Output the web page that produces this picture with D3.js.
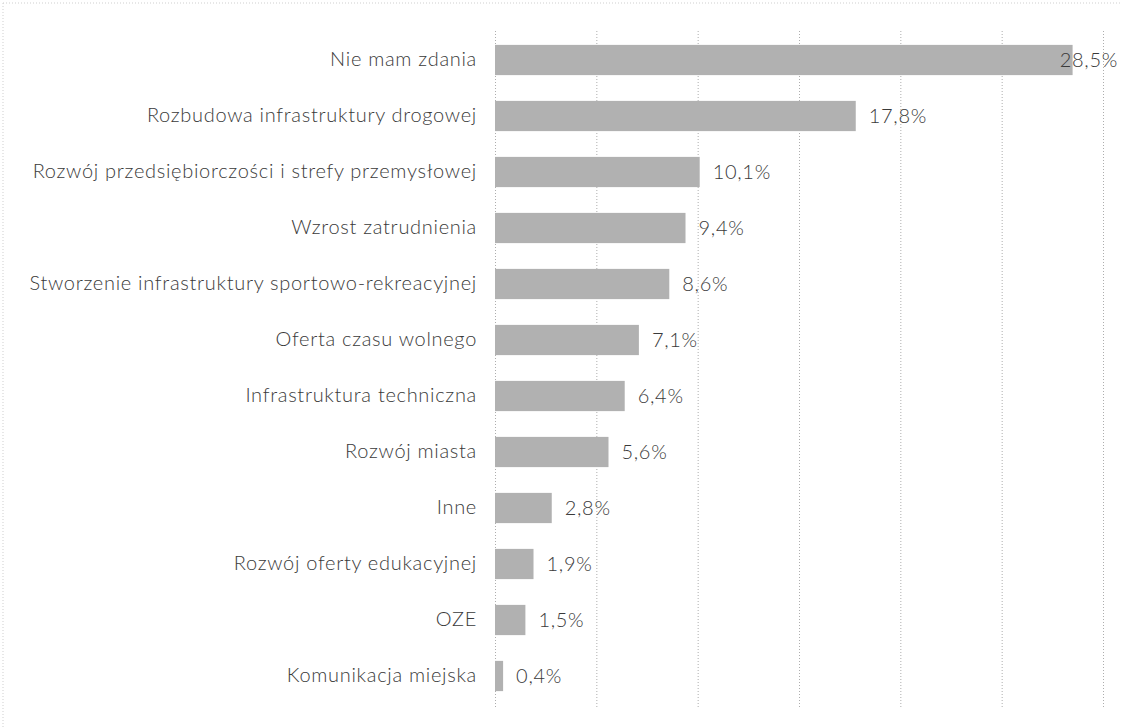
<!DOCTYPE html>
<html>
<head>
<meta charset="utf-8">
<script src="https://cdn.jsdelivr.net/npm/d3@7"></script>
<style>
  body { margin: 0; background: #fff; }
  svg text { font-family: Lato, "Open Sans", sans-serif; font-weight: 300; fill: #3a3a3a; letter-spacing: 0.7px; }
</style>
</head>
<body>
<svg id="chart" width="1121" height="727"></svg>
<script>
// categories and values (percent)
var categories = [
  'Nie mam zdania',
  'Rozbudowa infrastruktury drogowej',
  'Rozwój przedsiębiorczości i strefy przemysłowej',
  'Wzrost zatrudnienia',
  'Stworzenie infrastruktury sportowo-rekreacyjnej',
  'Oferta czasu wolnego',
  'Infrastruktura techniczna',
  'Rozwój miasta',
  'Inne',
  'Rozwój oferty edukacyjnej',
  'OZE',
  'Komunikacja miejska'
]
var values = [28.5, 17.8, 10.1, 9.4, 8.6, 7.1, 6.4, 5.6, 2.8, 1.9, 1.5, 0.4]
var xTicks = [0, 5, 10, 15, 20, 25, 30]

var width = 1121,
    height = 727,
    margins = { top: 32, left: 495, right: 18, bottom: 23 }

var svg = d3.select('#chart')

var xScale = d3.scaleLinear()
    .domain([0, 30])
    .range([margins.left, width - margins.right])

var yScale = d3.scaleBand()
    .domain(categories)
    .range([margins.top, height - margins.bottom])
    .paddingInner(0.46)
    .paddingOuter(0.23)

// frame (dotted, like the scanned page)
svg.append('line')
    .attr('x1', 3).attr('x2', 3).attr('y1', 3).attr('y2', 727)
    .attr('stroke', '#cfcfcf').attr('stroke-dasharray', '1,2')
svg.append('line')
    .attr('x1', 3).attr('x2', width).attr('y1', 3).attr('y2', 3)
    .attr('stroke', '#cfcfcf').attr('stroke-dasharray', '1,2')

// gridlines
var grid = d3.axisBottom(xScale)
    .tickValues(xTicks)
    .tickSize(-(height - margins.bottom - margins.top + 6))
    .tickFormat('')

svg.append('g')
    .attr('class', 'grid')
    .attr('transform', 'translate(0,' + (height - margins.bottom + 3) + ')')
    .call(grid)
    .call(function(g) {
      g.select('.domain').remove()
      g.selectAll('.tick line')
        .attr('stroke', '#adadad')
        .attr('stroke-dasharray', '1,2')
    })

// bars
svg.append('g').selectAll('rect')
    .data(values)
    .enter().append('rect')
    .attr('x', xScale(0))
    .attr('y', function(d, i) { return yScale(categories[i]) })
    .attr('width', function(d) { return xScale(d) - xScale(0) })
    .attr('height', yScale.bandwidth())
    .style('fill', '#b1b1b1')

// category labels
var yAxis = d3.axisLeft(yScale).tickSize(0).tickPadding(18)
svg.append('g')
    .attr('transform', 'translate(' + margins.left + ',0)')
    .call(yAxis)
    .call(function(g) {
      g.select('.domain').remove()
      g.selectAll('.tick text')
        .style('font-size', '20px')
        .attr('fill', '#3a3a3a')
    })

// value labels (kept inside the picture when the bar is long)
svg.append('g').selectAll('text')
    .data(values)
    .enter().append('text')
    .attr('y', function(d, i) { return yScale(categories[i]) + yScale.bandwidth() / 2 })
    .attr('dy', '0.35em')
    .style('font-size', '20px')
    .text(function(d) { return d.toFixed(1).replace('.', ',') + '%' })
    .attr('x', function(d) {
      var len = this.getComputedTextLength()
      return Math.min(xScale(d) + 13, width - len - 3)
    })
</script>
</body>
</html>
